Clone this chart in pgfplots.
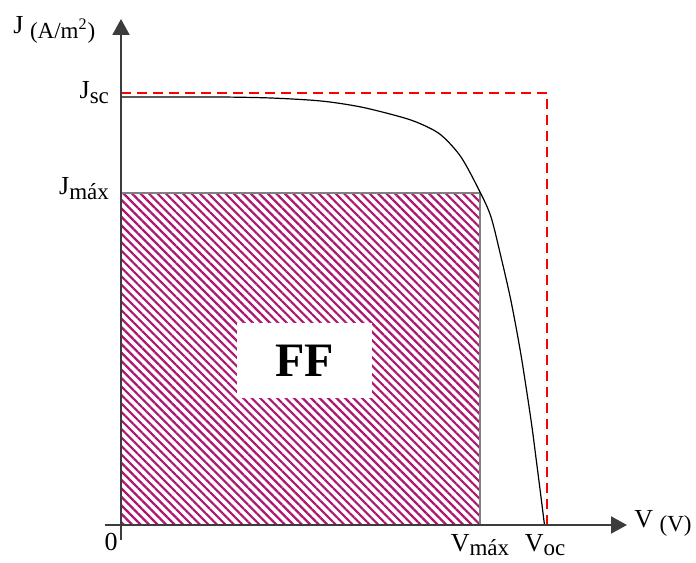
\documentclass[border=0pt]{standalone}
\usepackage{fontspec}
\setmainfont{Liberation Serif}
\usepackage{pgfplots}
\pgfplotsset{compat=1.18}
\usetikzlibrary{arrows.meta,patterns.meta}
\definecolor{hatch}{RGB}{172,24,112}
\definecolor{axisgray}{RGB}{60,60,60}
\newcommand\sub[1]{\raisebox{-0.35ex}{\fontsize{11.5}{13}\selectfont #1}}
\begin{document}
\begin{tikzpicture}
\begin{axis}[
  scale only axis, width=261pt, height=260.5pt,
  xmin=-16, xmax=506, ymin=-15, ymax=506,
  axis lines=middle,
  axis on top,
  axis line style={draw=axisgray, line width=1pt, -{Triangle[length=8pt,width=8.5pt]}},
  clip=false,
  major tick length=0pt,
  xtick={359,424}, xticklabels={V\sub{máx}, V\sub{oc}},
  ytick={332,428}, yticklabels={J\sub{máx}, J\sub{sc}},
  tick label style={font=\fontsize{13}{15}\selectfont},
  xticklabel style={anchor=north, yshift=-1pt},
  yticklabel style={anchor=base east, xshift=-2.5pt, yshift=-1pt},
]
% hatched area
\addplot[draw=gray, line width=1pt,
  pattern={Lines[angle=-45,distance=3pt,line width=1.1pt]}, pattern color=hatch]
  coordinates {(0,0) (0,332) (359,332) (359,0) (0,0)};
% ideal rectangle
\addplot[red, line width=1pt, dash pattern=on 5pt off 3pt]
  coordinates {(0,432) (426,432) (426,0)};
% J-V curve
\addplot[black, line width=0.6pt, smooth]
  coordinates {(0,428) (50,428) (100,428) (150,427) (200,424) (240,418) (280,408)
   (300,401) (320,390) (340,368) (359,333) (370,308) (380,268) (390,224)
   (400,170) (410,105) (415,67) (420,28) (423.5,0)};
\node[fill=white, minimum width=67.5pt, minimum height=37.5pt, inner sep=0pt,
  font=\fontsize{24}{28}\selectfont\bfseries] at (axis cs:183.5,164.5) {FF};
\node[anchor=base east, inner sep=0pt, font=\fontsize{13}{15}\selectfont]
  at (axis cs:-3,-25) {0};
\node[anchor=base west, inner sep=0pt, font=\fontsize{13}{15}\selectfont]
  at (axis cs:-108,491) {J \sub{(A/m\textsuperscript{2})}};
\node[anchor=base west, inner sep=0pt, xshift=3.5pt, font=\fontsize{13}{15}\selectfont]
  at (axis cs:506,-2) {V \sub{(V)}};
\path (axis cs:-121,-37) rectangle (axis cs:575,525);
\end{axis}
\end{tikzpicture}
\end{document}
